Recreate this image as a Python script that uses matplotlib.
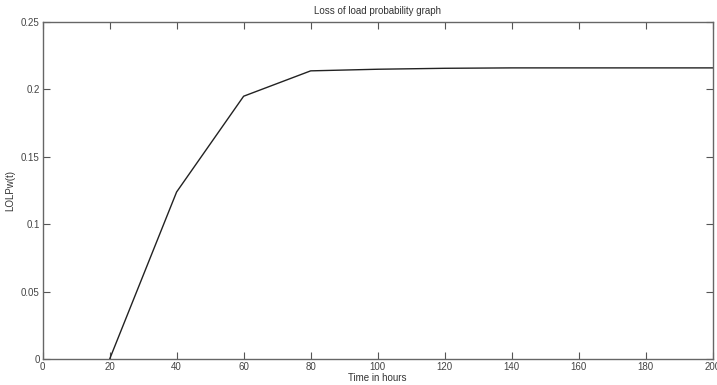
import matplotlib
matplotlib.use("Agg")
import matplotlib.pyplot as plt

# time (hours) and loss of load probability
hours = [20, 40, 60, 80, 100, 120, 140, 160, 180, 200]
lolp = [0.0, 0.124, 0.195, 0.2138, 0.2150, 0.2157, 0.2160, 0.2160, 0.2160, 0.2160]

plt.rcParams.update({'font.family': 'Liberation Sans', 'font.size': 7})

fig = plt.figure(figsize=(7.17, 3.85), dpi=100)
ax = fig.add_axes([0.0593, 0.0668, 0.935, 0.876])
ax.plot(hours, lolp, color='#222222', linewidth=1.0)

ax.set_xlim(0, 200)
ax.set_ylim(0, 0.25)
ax.set_xticks(range(0, 201, 20))
ax.set_yticks([0, 0.05, 0.1, 0.15, 0.2, 0.25])
ax.set_yticklabels(['0', '0.05', '0.1', '0.15', '0.2', '0.25'])
ax.tick_params(direction='in', top=True, right=True, length=5, width=0.8,
               color='#555555', labelcolor='#444444', pad=2)
for s in ax.spines.values():
    s.set_color('#666666')
    s.set_linewidth(1.0)

ax.set_title("Loss of load probability graph", fontsize=7, color='#333333', pad=6)
ax.set_xlabel("Time in hours", fontsize=7, color='#333333', labelpad=1)
ax.set_ylabel("LOLPw(t)", fontsize=7, color='#333333', labelpad=4)

fig.savefig("out.png", dpi=100)
